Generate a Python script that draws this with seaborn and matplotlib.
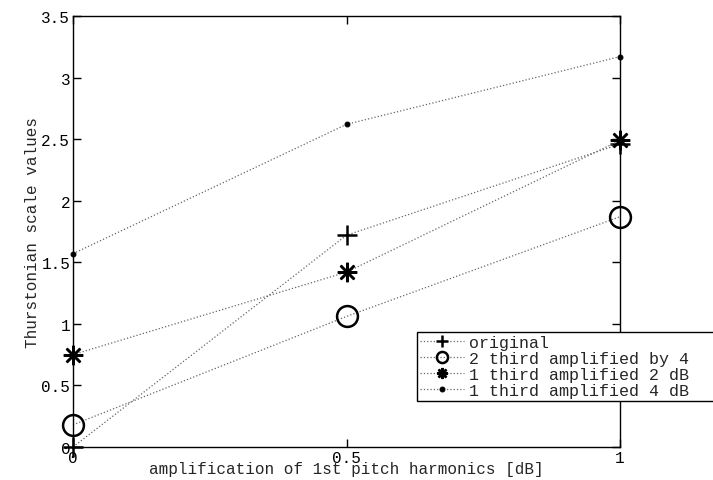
import pandas as pd
import matplotlib
matplotlib.use("Agg")
import matplotlib.pyplot as plt
import seaborn as sns

# amplification levels on the x axis
amplification = [0, 0.5, 1]

# Thurstonian scale values, one list per condition
original = [0.0, 1.72, 2.46]
third2_by4 = [0.18, 1.06, 1.87]
third1_2db = [0.75, 1.42, 2.49]
third1_4db = [1.57, 2.62, 3.17]

labels = ["original", "2 third amplified by 4",
          "1 third amplified 2 dB", "1 third amplified 4 dB"]
series = [original, third2_by4, third1_2db, third1_4db]

# long-form table for seaborn
rows = []
for lab, vals in zip(labels, series):
    for x, y in zip(amplification, vals):
        rows.append({"amplification": x, "value": y, "condition": lab})
data = pd.DataFrame(rows)

sns.set_theme(style="ticks")
plt.rcParams["font.family"] = ["Liberation Mono", "DejaVu Sans Mono"]
plt.rcParams["xtick.direction"] = "in"
plt.rcParams["ytick.direction"] = "in"

fig = plt.figure(figsize=(7.13, 4.81), dpi=100)
ax = fig.add_axes([0.1024, 0.0686, 0.7672, 0.8961])

# marker style per condition (matlab-ish: + o * .)
markers = {
    labels[0]: dict(marker="+", markersize=14, markeredgewidth=1.8),
    labels[1]: dict(marker="o", markersize=15, markeredgewidth=1.8, markerfacecolor="none"),
    labels[2]: dict(marker=(8, 2, 0), markersize=14, markeredgewidth=1.8),
    labels[3]: dict(marker=".", markersize=7),
}

for lab in labels:
    sub = data[data["condition"] == lab]
    # the matlab legend box runs past the figure edge, pad label so it does too
    sns.lineplot(data=sub, x="amplification", y="value", ax=ax, label=lab + "   ",
                 color="black", linestyle=":", linewidth=0.9,
                 markeredgecolor="black", clip_on=False, **markers[lab])

for ln in ax.get_lines():
    ln.set_color("#666666")
    ln.set_markeredgecolor("black")
    if ln.get_marker() == ".":
        ln.set_markerfacecolor("black")

ax.set_xlim(0, 1)
ax.set_ylim(0, 3.5)
ax.set_xticks([0, 0.5, 1])
ax.set_xticklabels(["0", "0.5", "1"])
ax.set_yticks([0, 0.5, 1, 1.5, 2, 2.5, 3, 3.5])
ax.set_yticklabels(["0", "0.5", "1", "1.5", "2", "2.5", "3", "3.5"])
ax.tick_params(axis="both", which="both", top=True, right=True, length=6,
               width=1, labelsize=11.5, colors="black", pad=2)
for sp in ax.spines.values():
    sp.set_visible(True)
    sp.set_color("black")
    sp.set_linewidth(1)

ax.set_xlabel("amplification of 1st pitch harmonics [dB]", fontsize=11.5, labelpad=-3)
ax.set_ylabel("Thurstonian scale values", fontsize=11.5, labelpad=1)

leg = ax.legend(loc="upper left", bbox_to_anchor=(0.585, 0.3077),
                bbox_transform=fig.transFigure, frameon=True, fancybox=False,
                framealpha=1, edgecolor="black", fontsize=12, labelspacing=0.05,
                borderpad=0.2, handlelength=2.6, handletextpad=0.3,
                borderaxespad=0)
leg.get_frame().set_linewidth(1)
leg.set_clip_on(False)
for h in leg.legend_handles:
    h.set_markersize(min(h.get_markersize(), 8))

fig.savefig("out.png", dpi=100)
